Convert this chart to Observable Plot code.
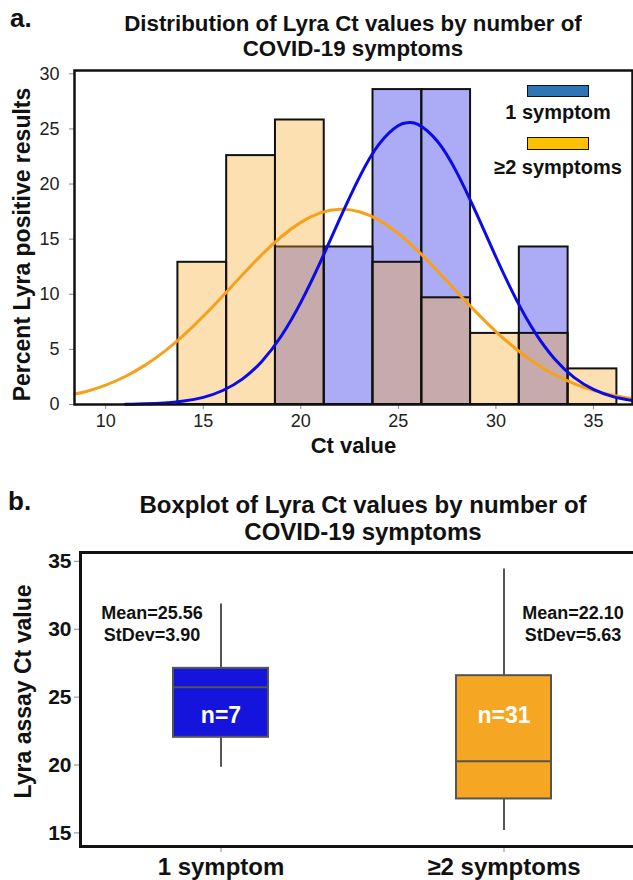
<!DOCTYPE html>
<html><head><meta charset="utf-8">
<script src="https://cdn.jsdelivr.net/npm/d3@7"></script>
<script src="https://cdn.jsdelivr.net/npm/@observablehq/plot@0.6"></script>
<style>
body{margin:0;background:#fff;}
#root{position:relative;width:633px;height:880px;overflow:hidden;background:#fff;font-family:"Liberation Sans",Arial,sans-serif;color:#111;}
.t{position:absolute;white-space:nowrap;line-height:1;font-weight:bold;}
.c{text-align:center;left:0;}
.sw{position:absolute;box-sizing:border-box;border:1.5px solid #111;}
</style></head><body>
<div id="root">
  <div id="plotA" style="position:absolute;left:0;top:60px;"></div>
  <div id="plotB" style="position:absolute;left:0;top:545px;width:633px;height:335px;overflow:hidden;"></div>
  <div class="t" style="left:10px;top:5px;font-size:26px">a.</div>
  <div class="t c" style="width:706px;top:11px;font-size:22.3px;line-height:25px">Distribution of Lyra Ct values by number of<br>COVID-19 symptoms</div>
  <div class="sw" style="left:527px;top:85px;width:62px;height:12px;background:#2e75b6"></div>
  <div id="leg1" class="t" style="left:458px;width:200px;text-align:center;top:102px;font-size:20px"></div>
  <div class="sw" style="left:527px;top:137px;width:62px;height:13px;background:#ffc000"></div>
  <div id="leg2" class="t" style="left:458px;width:200px;text-align:center;top:157px;font-size:20px"></div>
  <div class="t" style="left:8px;top:488px;font-size:26px">b.</div>
  <div class="t c" style="width:726px;top:491.2px;font-size:24px;line-height:27px">Boxplot of Lyra Ct values by number of<br>COVID-19 symptoms</div>
</div>
<script>
const FONT = '"Liberation Sans", Arial, sans-serif';

// ---- Panel a: histogram data (percent of each group per bin) ----
const binStart = [13.7, 16.2, 18.7, 21.2, 23.7, 26.2, 28.7, 31.2, 33.7];
const binEnd   = [16.2, 18.7, 21.2, 23.7, 26.2, 28.7, 31.2, 33.7, 36.2];
const pctOne   = [0, 0, 14.29, 14.29, 28.57, 28.57, 0, 14.29, 0];
const pctTwo   = [12.90, 22.58, 25.81, 0, 12.90, 9.68, 6.45, 6.45, 3.23];

// fitted normal curves
const blueX = [11,12,13,14,15,16,17,18,19,20,21,22,23,24,25,25.5,26,27,28,29,30,31,32,33,34,35,36,37];
const blueY = [0.02,0.06,0.14,0.32,0.65,1.27,2.30,3.91,6.21,9.26,12.91,16.86,20.61,23.60,25.31,25.57,25.41,23.88,21.03,17.33,13.38,9.67,6.54,4.15,2.46,1.37,0.71,0.35];
const orangeX = [8.4,9,10,11,12,13,14,15,16,17,18,19,20,21,22,23,24,25,26,27,28,29,30,31,32,33,34,35,36,37];
const orangeY = [0.95,1.18,1.76,2.54,3.55,4.80,6.29,8.00,9.85,11.75,13.59,15.22,16.52,17.38,17.71,17.49,16.73,15.51,13.94,12.13,10.23,8.36,6.62,5.08,3.77,2.72,1.90,1.28,0.84,0.53];

const xTicksA = [10, 15, 20, 25, 30, 35];
const yTicksA = [0, 5, 10, 15, 20, 25, 30];

// ---- Panel b: boxplot data ----
const groups   = ["1 symptom", "≥2 symptoms"];
const boxLow   = [19.83, 15.17];
const boxQ1    = [22.04, 17.50];
const boxMed   = [25.72, 20.27];
const boxQ3    = [27.12, 26.58];
const boxHigh  = [31.86, 34.44];
const groupMean = [25.56, 22.10];
const groupSd   = [3.90, 5.63];
const groupN    = [7, 31];
const yTicksB = [15, 20, 25, 30, 35];

document.getElementById("leg1").textContent = groups[0];
document.getElementById("leg2").textContent = groups[1];

const barsOne = binStart.map((s, i) => ({x1: s, x2: binEnd[i], y: pctOne[i]})).filter(d => d.y > 0);
const barsTwo = binStart.map((s, i) => ({x1: s, x2: binEnd[i], y: pctTwo[i]})).filter(d => d.y > 0);
const lineBlue = blueX.map((x, i) => ({x, y: blueY[i]}));
const lineOrange = orangeX.map((x, i) => ({x, y: orangeY[i]}));

const plotA = Plot.plot({
  width: 633, height: 410,
  marginTop: 10, marginLeft: 74, marginRight: 1, marginBottom: 66,
  style: {fontFamily: FONT, fontSize: "18px", color: "#222", background: "transparent", maxWidth: "none"},
  x: {domain: [8.4, 37]},
  y: {domain: [0, 30.3]},
  marks: [
    Plot.rect(barsOne, {x1: "x1", x2: "x2", y1: 0, y2: "y", fill: "#1a1ae6", fillOpacity: 0.36, stroke: "#111", strokeWidth: 2}),
    Plot.rect(barsTwo, {x1: "x1", x2: "x2", y1: 0, y2: "y", fill: "#f5a623", fillOpacity: 0.35, stroke: "#111", strokeWidth: 2}),
    Plot.line(lineOrange, {x: "x", y: "y", stroke: "#f7a11a", strokeWidth: 3, curve: "natural"}),
    Plot.line(lineBlue, {x: "x", y: "y", stroke: "#0b0be8", strokeWidth: 3, curve: "natural"}),
    Plot.axisX({ticks: xTicksA, tickSize: 5, tickPadding: 5, fontSize: 18, label: null, stroke: "#888"}),
    Plot.axisY({ticks: yTicksA, tickSize: 5, tickPadding: 10, fontSize: 18, label: null, stroke: "#888"}),
    Plot.text(["Ct value"], {frameAnchor: "bottom", lineAnchor: "middle", dy: 41, fontSize: 22, fontWeight: "bold", fill: "#111"}),
    Plot.text(["Percent Lyra positive results"], {frameAnchor: "left", textAnchor: "middle", lineAnchor: "middle", rotate: -90, dx: -52, dy: 7, fontSize: 23, fontWeight: "bold", fill: "#111"}),
    Plot.frame({stroke: "#111", strokeWidth: 2.5})
  ]
});
document.getElementById("plotA").appendChild(plotA);

const boxes = groups.map((g, i) => ({
  g, lo: boxLow[i], q1: boxQ1[i], med: boxMed[i], q3: boxQ3[i], hi: boxHigh[i],
  mean: groupMean[i], sd: groupSd[i], n: groupN[i]
}));
const statText = d => `Mean=${d.mean.toFixed(2)}\nStDev=${d.sd.toFixed(2)}`;

const plotB = Plot.plot({
  width: 645, height: 335,
  marginTop: 7, marginLeft: 80, marginRight: 0, marginBottom: 34,
  style: {fontFamily: FONT, fontSize: "20px", color: "#111", background: "transparent", maxWidth: "none"},
  x: {type: "band", domain: groups, paddingInner: 0.664, paddingOuter: 0.33},
  y: {domain: [14, 35.65]},
  color: {domain: groups, range: ["#1414dc", "#f5a623"]},
  marks: [
    Plot.ruleX(boxes, {x: "g", y1: "lo", y2: "hi", stroke: "#555", strokeWidth: 2}),
    Plot.barY(boxes, {x: "g", y1: "q1", y2: "q3", fill: "g", stroke: "#555", strokeWidth: 2}),
    Plot.tickY(boxes, {x: "g", y: "med", stroke: "#555", strokeWidth: 2}),
    Plot.text(boxes, {x: "g", text: d => "n=" + d.n, frameAnchor: "middle", lineAnchor: "middle", dy: 16, fill: "white", fontSize: 23, fontWeight: "bold"}),
    Plot.text(boxes.slice(0, 1), {x: "g", text: statText, frameAnchor: "top", lineAnchor: "middle", dy: 70, dx: -69, fontSize: 18, fontWeight: "bold", lineHeight: 1.22, fill: "#111"}),
    Plot.text(boxes.slice(1), {x: "g", text: statText, frameAnchor: "top", lineAnchor: "middle", dy: 70, dx: 69, fontSize: 18, fontWeight: "bold", lineHeight: 1.22, fill: "#111"}),
    Plot.axisX({tickSize: 6, tickPadding: 5, fontSize: 24, fontWeight: "bold", label: null, stroke: "#888"}),
    Plot.axisY({ticks: yTicksB, tickSize: 6, tickPadding: 3, fontSize: 21, fontWeight: "bold", label: null, stroke: "#888"}),
    Plot.text(["Lyra assay Ct value"], {frameAnchor: "left", textAnchor: "middle", lineAnchor: "middle", rotate: -90, dx: -57, dy: -8, fontSize: 23, fontWeight: "bold", fill: "#111"}),
    Plot.frame({stroke: "#111", strokeWidth: 3})
  ]
});
document.getElementById("plotB").appendChild(plotB);
</script>
</body></html>
